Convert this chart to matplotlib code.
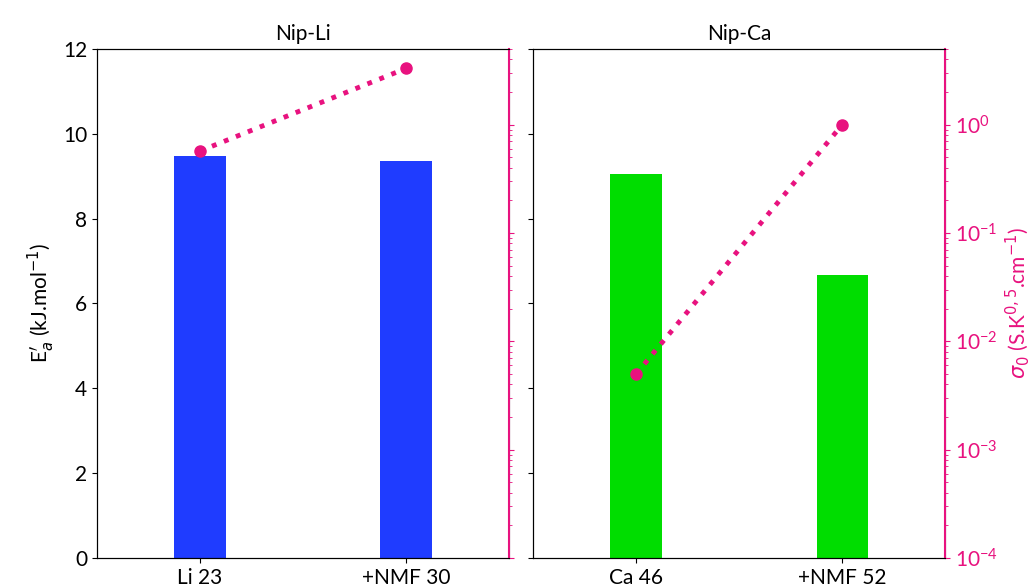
import matplotlib
matplotlib.use("Agg")
import matplotlib.pyplot as plt
import numpy as np

plt.rcParams['font.family'] = ['Lato', 'DejaVu Sans']
plt.rcParams['font.size'] = 14

titles = ["Nip-Li", "Nip-Ca"]
categories = [["Li 23", "+NMF 30"], ["Ca 46", "+NMF 52"]]
ea_values = [[9.48, 9.35], [9.05, 6.68]]
sigma_values = [[0.57, 3.3], [0.005, 1.0]]
bar_colors = ["#1f3cff", "#00dd00"]
pink = "#e8127f"

fig = plt.figure(figsize=(10.31, 5.88), dpi=100)
lefts = [0.094, 0.517]
axes = []
for i in range(2):
    ax = fig.add_axes([lefts[i], 0.051, 0.400, 0.866])
    x = np.arange(len(categories[i]))
    ax.bar(x, ea_values[i], width=0.25, color=bar_colors[i])
    ax.set_xlim(-0.5, 1.5)
    ax.set_ylim(0, 12)
    ax.set_xticks(x)
    ax.set_xticklabels(categories[i])
    ax.set_title(titles[i], fontsize=15)
    ax.tick_params(labelsize=15)
    if i == 1:
        ax.set_yticklabels([])
    else:
        ax.set_ylabel(r"E$_a^{\prime}$ (kJ.mol$^{-1}$)", fontsize=15)
    ax2 = ax.twinx()
    ax2.set_yscale('log')
    ax2.plot(x, sigma_values[i], linestyle=':', linewidth=3.5, color=pink,
             marker='o', markersize=8)
    ax2.set_ylim(1e-4, 5)
    ax2.spines['right'].set_color(pink)
    ax2.spines['right'].set_linewidth(1.5)
    ax2.tick_params(axis='y', which='both', colors=pink, labelsize=15)
    if i == 0:
        ax2.tick_params(axis='y', which='both', labelright=False)
    else:
        ax2.set_ylabel(r"$\sigma_0$ (S.K$^{0,5}$.cm$^{-1}$)", color=pink, fontsize=15)
    axes.append(ax)

fig.savefig("out.png", dpi=100)
